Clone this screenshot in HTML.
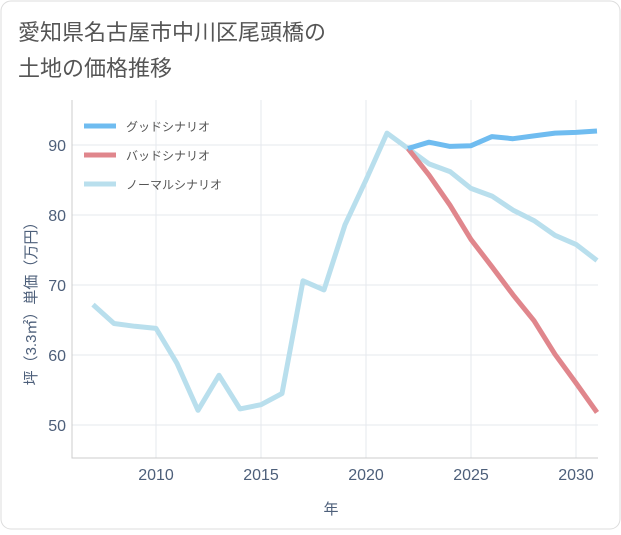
<!DOCTYPE html>
<html><head><meta charset="utf-8"><style>
body{margin:0;background:#fff;}
svg text{font-family:"Liberation Sans","Noto Sans CJK JP",sans-serif;}
</style></head><body>
<svg width="621" height="530" viewBox="0 0 621 530">
<rect x="1" y="1" width="619" height="528" rx="10" fill="#fff" stroke="#ddd"/>
<text x="18" y="40" font-size="22" fill="#555">愛知県名古屋市中川区尾頭橋の</text>
<text x="18" y="76" font-size="22" fill="#555">土地の価格推移</text>
<g id="grid"></g>
<g id="series"></g>
<g>
<line x1="84" y1="126" x2="116" y2="126" stroke="#6fbcf0" stroke-width="5"/>
<text x="126" y="131" font-size="12" fill="#555">グッドシナリオ</text>
<line x1="84" y1="155" x2="116" y2="155" stroke="#e0868c" stroke-width="5"/>
<text x="126" y="160" font-size="12" fill="#555">バッドシナリオ</text>
<line x1="84" y1="184" x2="116" y2="184" stroke="#b9dfed" stroke-width="5"/>
<text x="126" y="189" font-size="12" fill="#555">ノーマルシナリオ</text>
</g>
<text x="331" y="514" font-size="15" fill="#4d5f7a" text-anchor="middle">年</text>
<text transform="translate(36,300) rotate(-90)" font-size="15" fill="#4d5f7a" text-anchor="middle">坪（3.3㎡）単価（万円）</text>
</svg>
<script>
const normalYears=[2007,2008,2009,2010,2011,2012,2013,2014,2015,2016,2017,2018,2019,2020,2021,2022,2023,2024,2025,2026,2027,2028,2029,2030,2031];
const normalValues=[67.2,64.5,64.1,63.8,58.8,52.1,57.1,52.3,52.9,54.5,70.6,69.3,78.6,85.0,91.7,89.5,87.3,86.2,83.8,82.7,80.7,79.2,77.1,75.8,73.5];
const futureYears=[2022,2023,2024,2025,2026,2027,2028,2029,2030,2031];
const goodValues=[89.5,90.4,89.8,89.9,91.2,90.9,91.3,91.7,91.8,92.0];
const badValues=[89.5,85.7,81.4,76.5,72.6,68.6,64.9,60.1,56.0,51.8];
const xTicks=[2010,2015,2020,2025,2030];
const yTicks=[50,60,70,80,90];
const NS="http://www.w3.org/2000/svg";
const L=72,R=598,T=100,B=458;
const x=y=>L+(y-2006)*21;
const yv=v=>145+(90-v)*7;
const grid=document.getElementById('grid'),ser=document.getElementById('series');
function mk(tag,attrs,parent){const e=document.createElementNS(NS,tag);for(const k in attrs)e.setAttribute(k,attrs[k]);parent.appendChild(e);return e;}
xTicks.forEach(t=>{const l=mk('line',{x1:x(t),x2:x(t),y1:T,y2:B,stroke:'#e5e9ee'},grid);


const tx=mk('text',{x:x(t),y:B+22,'font-size':16,fill:'#4d5f7a','text-anchor':'middle'},grid);tx.textContent=t;

});
yTicks.forEach(t=>{const l=mk('line',{x1:L,x2:R,y1:yv(t),y2:yv(t),stroke:'#e5e9ee'},grid);


const tx=mk('text',{x:L-6,y:yv(t)+6,'font-size':16,fill:'#4d5f7a','text-anchor':'end'},grid);tx.textContent=t;

});
const ax=mk('path',{d:`M${L},${T}V${B}H${R}`,fill:'none',stroke:'#ccc'},grid);


function line(xs,vs,col,name){const p=mk('polyline',{points:xs.map((a,i)=>x(a)+','+yv(vs[i])).join(' '),fill:'none',stroke:col,'stroke-width':5,'stroke-linejoin':'round'},ser);

}
line(normalYears,normalValues,'#b9dfed','normal-line');
line(futureYears,badValues,'#e0868c','bad-line');
line(futureYears,goodValues,'#6fbcf0','good-line');
</script>
</body></html>
